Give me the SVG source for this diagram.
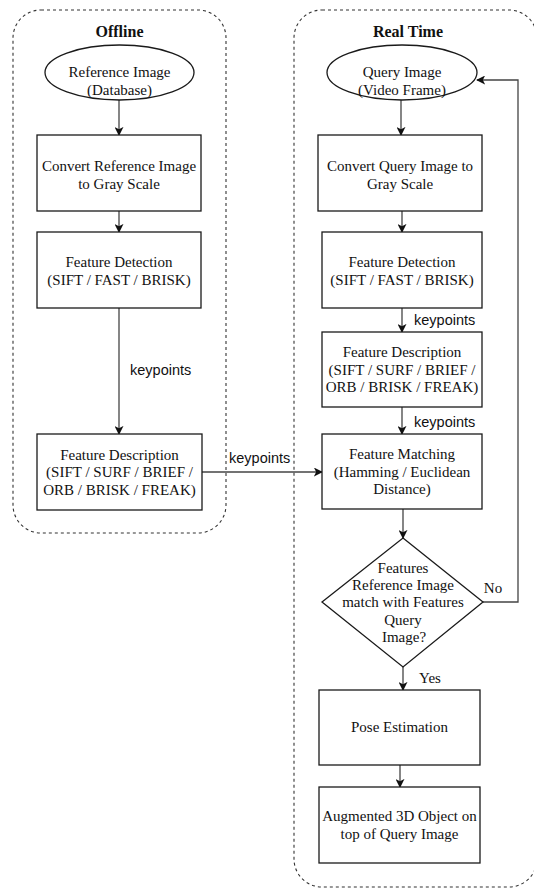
<svg xmlns="http://www.w3.org/2000/svg" width="534" height="888" viewBox="0 0 534 888">
<defs>
<marker id="arr" viewBox="0 0 10 10" refX="9" refY="5" markerWidth="9" markerHeight="9" markerUnits="userSpaceOnUse" orient="auto">
<path d="M0,0 L10,5 L0,10 L2.5,5 z" fill="#111"/>
</marker>
<style>
.cont{fill:none;stroke:#333;stroke-width:1.1;stroke-dasharray:3 3}
.box{fill:#fff;stroke:#1a1a1a;stroke-width:1.3}
.t{font-family:"Liberation Serif","Times New Roman",serif;font-size:15px;fill:#111;text-anchor:middle}
.title{font-family:"Liberation Serif","Times New Roman",serif;font-size:16px;font-weight:bold;fill:#111;text-anchor:middle}
.lbl{font-family:"Liberation Sans",Arial,sans-serif;font-size:14.5px;fill:#111}
.ln{fill:none;stroke:#444;stroke-width:1.3;marker-end:url(#arr)}
</style>
</defs>
<rect width="534" height="888" fill="#fff"/>

<g id="offline">
<rect class="cont" x="13" y="10" width="213" height="523" rx="28" ry="28"/>
<text class="title" x="119.5" y="37">Offline</text>
</g>
<g id="realtime">
<rect class="cont" x="294" y="10" width="243" height="877" rx="28" ry="28"/>
<text class="title" x="408" y="37">Real Time</text>
</g>

<g id="connectors">
<path class="ln" d="M119,100 V135"/>
<path class="ln" d="M119,211 V232"/>
<path class="ln" d="M119,308 V434"/>
<path class="ln" d="M202,472 H322"/>
<path class="ln" d="M401,100 V135"/>
<path class="ln" d="M402,211 V232"/>
<path class="ln" d="M402,308 V332"/>
<path class="ln" d="M402,407 V434"/>
<path class="ln" d="M403,509 V538"/>
<path class="ln" d="M403,667 V690"/>
<path class="ln" d="M400,765 V787"/>
<path class="ln" d="M483,602 H518 V80 H477"/>
<text class="lbl" x="130" y="375">keypoints</text>
<text class="lbl" x="229" y="463">keypoints</text>
<text class="lbl" x="414" y="325">keypoints</text>
<text class="lbl" x="414" y="427">keypoints</text>
<text class="t" x="430" y="683">Yes</text>
<text class="t" x="493" y="593">No</text>
</g>

<g id="ref-image">
<ellipse class="box" cx="119.5" cy="72.5" rx="74.5" ry="27.5"/>
<text class="t" x="119.5" y="77">Reference Image</text>
<text class="t" x="119.5" y="95">(Database)</text>
</g>
<g id="convert-ref">
<rect class="box" x="37" y="135" width="164" height="76"/>
<text class="t" x="119" y="171">Convert Reference Image</text>
<text class="t" x="119" y="189">to Gray Scale</text>
</g>
<g id="detect-ref">
<rect class="box" x="37" y="232" width="164" height="76"/>
<text class="t" x="119" y="267">Feature Detection</text>
<text class="t" x="119" y="285">(SIFT / FAST / BRISK)</text>
</g>
<g id="desc-ref">
<rect class="box" x="37" y="434" width="165" height="76"/>
<text class="t" x="119.5" y="460">Feature Description</text>
<text class="t" x="119.5" y="477">(SIFT / SURF / BRIEF /</text>
<text class="t" x="119.5" y="495">ORB / BRISK / FREAK)</text>
</g>

<g id="query-image">
<ellipse class="box" cx="402" cy="72.5" rx="75" ry="27.5"/>
<text class="t" x="402" y="77">Query Image</text>
<text class="t" x="402" y="95">(Video Frame)</text>
</g>
<g id="convert-query">
<rect class="box" x="318" y="135" width="164" height="76"/>
<text class="t" x="400" y="171">Convert Query Image to</text>
<text class="t" x="400" y="189">Gray Scale</text>
</g>
<g id="detect-query">
<rect class="box" x="322" y="232" width="160" height="76"/>
<text class="t" x="402" y="267">Feature Detection</text>
<text class="t" x="402" y="285">(SIFT / FAST / BRISK)</text>
</g>
<g id="desc-query">
<rect class="box" x="322" y="332" width="160" height="75"/>
<text class="t" x="402" y="357">Feature Description</text>
<text class="t" x="402" y="375">(SIFT / SURF / BRIEF /</text>
<text class="t" x="402" y="392">ORB / BRISK / FREAK)</text>
</g>
<g id="matching">
<rect class="box" x="322" y="434" width="160" height="75"/>
<text class="t" x="402" y="459">Feature Matching</text>
<text class="t" x="402" y="477">(Hamming / Euclidean</text>
<text class="t" x="402" y="494">Distance)</text>
</g>
<g id="decision">
<polygon class="box" points="403,538 483,602 403,667 322,602"/>
<text class="t" x="403" y="573">Features</text>
<text class="t" x="403" y="590">Reference Image</text>
<text class="t" x="403" y="607">match with Features</text>
<text class="t" x="403" y="625">Query</text>
<text class="t" x="404" y="642">Image?</text>
</g>
<g id="pose">
<rect class="box" x="319" y="690" width="161" height="75"/>
<text class="t" x="399.5" y="732">Pose Estimation</text>
</g>
<g id="augmented">
<rect class="box" x="319" y="787" width="161" height="76"/>
<text class="t" x="399.5" y="821">Augmented 3D Object on</text>
<text class="t" x="399.5" y="839">top of Query Image</text>
</g>
</svg>
